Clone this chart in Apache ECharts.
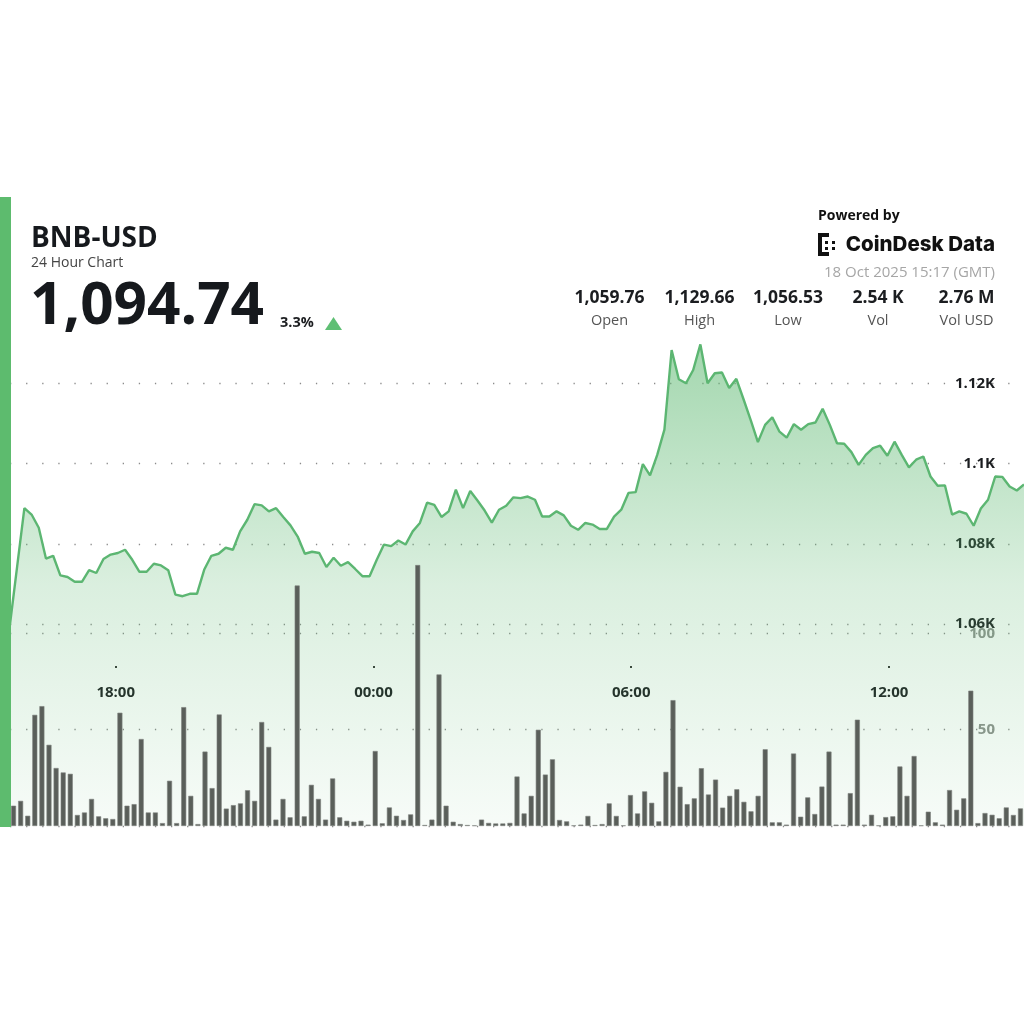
<!DOCTYPE html>
<html><head><meta charset="utf-8">
<script src="https://cdn.jsdelivr.net/npm/echarts@6/dist/echarts.min.js"></script>
<style>html,body{margin:0;padding:0;background:#fff}#c{width:1024px;height:1024px}</style>
</head><body><div id="c"></div>
<script>
// ---- data ----
const priceValues = [
  1059.8,1074.3,1088.8,1087.2,1083.9,1076.2,1076.9,1072.0,1071.6,1070.4,
  1070.4,1073.3,1072.6,1076.1,1077.2,1077.6,1078.4,1075.9,1072.9,1072.9,
  1074.9,1074.5,1073.3,1067.2,1066.8,1067.4,1067.4,1073.4,1076.9,1077.4,
  1078.9,1078.4,1083.0,1085.9,1089.8,1089.5,1088.0,1088.8,1086.6,1084.5,
  1081.7,1077.4,1077.9,1077.6,1074.1,1076.4,
  1074.4,1075.3,1073.6,1071.8,1071.8,1075.9,1079.7,1079.3,1080.7,1079.7,
  1083.0,1085.1,1090.2,1089.6,1086.6,1088.0,1093.4,1088.8,1093.1,1090.7,
  1088.2,1085.2,1088.4,1089.4,1091.5,1091.3,1091.7,1090.9,1086.7,1086.7,
  1088.0,1087.0,1084.4,1083.4,1085.1,1084.7,1083.6,1083.6,1086.7,1088.4,
  1092.6,1092.8,1099.8,1097.0,1102.1,1108.4,1128.3,1121.0,
  1120.0,1123.3,1129.7,1120.0,1122.5,1122.7,1118.8,1121.1,1116.0,1110.8,
  1105.3,1109.6,1111.5,1107.9,1106.4,1109.8,1108.4,1109.8,1110.2,1113.6,
  1109.6,1105.0,1104.9,1102.8,1099.6,1102.1,1103.8,1104.4,1101.9,1105.4,
  1102.1,1099.0,1100.9,1101.7,1096.7,1094.4,1094.5,1087.2,1088.0,1087.4,
  1084.4,1088.7,1090.9,1096.7,1096.6,1094.2,1093.2,1094.7
];
const volumeValues = [
  10.5,13,5.3,57.5,62,42,30,27.7,27,5.7,7,14,5,4,3.6,58.6,10.5,11.3,45,7,
  7,1.5,23.4,1.5,61.5,15.6,1,38.5,19.6,57.7,9,10.8,11.7,18.5,13,53.8,40.9,3.3,14,4.5,
  124.4,5,21.3,14,3.3,24.6,4.5,
  2.7,2.2,2.7,0.7,38.8,1.4,9.6,5.3,3.1,6,135,0.5,3.3,78.4,10.5,2.2,1,0.5,0.3,3.3,
  1.6,1.3,1.3,1.6,25.6,6.5,15.6,49.8,26.6,34.5,3.1,2.4,0.3,0.7,5.2,0.5,1,11.7,5.2,0.3,
  16,6.5,17.9,12,2.4,28,65.1,20.3,
  11.3,14.3,29.9,16.3,24,9.5,15.6,19,12.5,7.6,15.6,39.7,1.9,1.9,0.7,37.5,4.8,14.8,6.2,20.4,
  38.5,0.7,0.7,17,55,0.7,5.8,0.3,4.6,5,30.8,15.6,36.2,0.3,7.4,1.9,0.7,18.6,8.4,14.3,
  70,1.5,6.7,5.8,4,9.6,5.7,9.1
];
const priceTicks = [1060, 1080, 1100, 1120];
const volumeTicks = [0, 50, 100];
const timeTickHours = [18, 24, 30, 36];
const timeTickLabels = ['18:00', '00:00', '06:00', '12:00'];
const statValues = ['1,059.76', '1,129.66', '1,056.53', '2.54 K', '2.76 M'];
const statLabels = ['Open', 'High', 'Low', 'Vol', 'Vol USD'];
const pair = 'BNB-USD';
const subtitle = '24 Hour Chart';
const lastPrice = '1,094.74';
const changePct = '3.3%';
const stamp = '18 Oct 2025 15:17 (GMT)';

// category time labels (10-minute steps)
function hm(m){ m = ((m % 1440) + 1440) % 1440; const h = Math.floor(m/60), mm = m%60; return (h<10?'0':'')+h+':'+(mm<10?'0':'')+mm; }
const barTimes = volumeValues.map((_, i) => hm(15*60+40 + 10*i));
const lineTimes = priceValues.map((_, i) => hm(15*60+35 + 10*i));

// ---- chart ----
const FONT = '"Open Sans", "Noto Sans", sans-serif';
const chart = echarts.init(document.getElementById('c'), null, {renderer: 'canvas'});
const dotted = {show: true, lineStyle: {color: '#8c8c8c', width: 1.3, type: [1.3, 14.8]}};

const stats = [];
const statX = [609.5, 699.5, 788, 878, 966.5];
statValues.forEach((v, i) => {
  stats.push({type: 'text', x: statX[i], y: 298, style: {text: v, fill: '#1b1d20', font: 'bold 17.5px ' + FONT, align: 'center', verticalAlign: 'middle'}});
  stats.push({type: 'text', x: statX[i], y: 321, style: {text: statLabels[i], fill: '#555', font: '14.5px ' + FONT, align: 'center', verticalAlign: 'middle'}});
});

const logo = [
  [818,233,4,23],[818,233,11,4],[818,252,11,4],[826,233,3,3],[826,253,3,3],
  [825,241,3,3],[825,247,3,3],[832,241,3,3],[832,247,3,3]
].map(r => ({type: 'rect', shape: {x: r[0], y: r[1], width: r[2], height: r[3]}, style: {fill: '#111'}}));

chart.setOption({
  animation: false,
  backgroundColor: '#fff',
  grid: [
    {left: 10, right: 0, top: 330, bottom: 198},
    {left: 10, right: 0, top: 383.3, bottom: 400},
    {left: 10, right: 0, top: 633.3, bottom: 198},
    {left: 115.7, right: 135, top: 600, bottom: 358}
  ],
  xAxis: [
    {gridIndex: 0, type: 'category', data: barTimes, boundaryGap: true, show: false},
    {gridIndex: 0, type: 'category', data: lineTimes, boundaryGap: false, show: false},
    {gridIndex: 1, type: 'value', min: 0, max: 1, show: false},
    {gridIndex: 2, type: 'value', min: 0, max: 1, show: false},
    {gridIndex: 3, type: 'value', min: timeTickHours[0], max: timeTickHours[timeTickHours.length-1], interval: 6,
     axisLine: {show: false}, splitLine: {show: false},
     axisTick: {show: true, length: 2, lineStyle: {color: '#333', width: 2}},
     axisLabel: {margin: 19, color: '#1b1d20', fontFamily: FONT, fontWeight: 'bold', fontSize: 15,
       formatter: v => timeTickLabels[timeTickHours.indexOf(v)] || ''}}
  ],
  yAxis: [
    {gridIndex: 0, type: 'value', min: 1009.4, max: 1133.3, show: false},
    {gridIndex: 0, type: 'value', min: 0, max: 256.6, show: false},
    {gridIndex: 1, type: 'value', position: 'right', min: priceTicks[0], max: priceTicks[priceTicks.length-1], interval: 20,
     axisLine: {show: false}, axisTick: {show: false}, splitLine: dotted,
     axisLabel: {inside: true, margin: 29, color: '#1b1d20', fontFamily: FONT, fontWeight: 'bold', fontSize: 15,
       formatter: v => (v/1000) + 'K'}},
    {gridIndex: 2, type: 'value', position: 'right', min: volumeTicks[0], max: volumeTicks[volumeTicks.length-1], interval: 50,
     axisLine: {show: false}, axisTick: {show: false}, splitLine: dotted,
     axisLabel: {inside: true, margin: 29, color: '#8e928e', fontFamily: FONT, fontWeight: 'bold', fontSize: 15, showMinLabel: false}},
    {gridIndex: 3, type: 'value', min: 0, max: 1, show: false}
  ],
  series: [
    {type: 'line', xAxisIndex: 1, yAxisIndex: 0, data: priceValues, symbol: 'none', z: 2,
     lineStyle: {color: '#5cb672', width: 2.4},
     areaStyle: {color: new echarts.graphic.LinearGradient(0, 0, 0, 1, [
       {offset: 0, color: 'rgba(92,184,112,0.80)'},
       {offset: 0.5, color: 'rgba(92,184,112,0.32)'},
       {offset: 1, color: 'rgba(92,184,112,0.07)'}])}},
    {type: 'bar', xAxisIndex: 0, yAxisIndex: 1, data: volumeValues, barWidth: 5, z: 3,
     itemStyle: {color: '#5a5f5a', borderColor: '#7d827d', borderWidth: 0.6}}
  ],
  graphic: [
    {type: 'rect', shape: {x: 0, y: 197, width: 11, height: 630}, style: {fill: '#5dbb6e'}, z: 10},
    {type: 'text', x: 31, y: 239, style: {text: pair, fill: '#16191d', font: 'bold 28px ' + FONT, verticalAlign: 'middle'}},
    {type: 'text', x: 31, y: 263, style: {text: subtitle, fill: '#444', font: '14px ' + FONT, verticalAlign: 'middle'}},
    {type: 'text', x: 30, y: 307, style: {text: lastPrice, fill: '#16191d', font: 'bold 58.5px ' + FONT, verticalAlign: 'middle'}},
    {type: 'text', x: 280, y: 323, style: {text: changePct, fill: '#1b1d20', font: 'bold 14.5px ' + FONT, verticalAlign: 'middle'}},
    {type: 'polygon', shape: {points: [[325, 330], [342, 330], [333.5, 317]]}, style: {fill: '#5fbf74'}},
    {type: 'text', x: 818, y: 216, style: {text: 'Powered by', fill: '#111', font: 'bold 14px ' + FONT, verticalAlign: 'middle'}},
    {type: 'text', x: 995, y: 245, style: {text: 'CoinDesk Data', fill: '#111', font: '800 20.5px Inter, ' + FONT, align: 'right', verticalAlign: 'middle'}},
    ...logo,
    {type: 'text', x: 995, y: 273, style: {text: stamp, fill: '#a6a6a6', font: '15px ' + FONT, align: 'right', verticalAlign: 'middle'}},
    ...stats
  ]
});
</script></body></html>
